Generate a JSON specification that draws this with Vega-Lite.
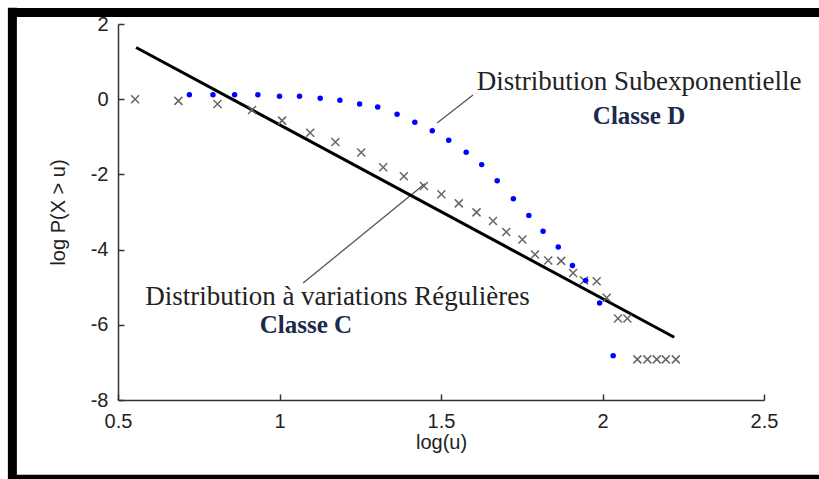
{
  "$schema": "https://vega.github.io/schema/vega-lite/v6.json",
  "usermeta": {"embedOptions": {"actions": false}},
  "width": 646,
  "height": 376,
  "autosize": "none",
  "padding": {"left": 118, "top": 24, "right": 55, "bottom": 79},
  "background": "#ffffff",
  "config": {
    "view": {"stroke": null},
    "axis": {
      "grid": false,
      "domainColor": "#333333",
      "tickColor": "#333333",
      "domainWidth": 1.5,
      "tickWidth": 1.5,
      "tickSize": -6,
      "labelFont": "Liberation Sans",
      "labelFontSize": 20,
      "labelColor": "#222222",
      "labelFlush": false,
      "labelOverlap": false,
      "titleFont": "Liberation Sans",
      "titleFontSize": 20,
      "titleFontWeight": "normal",
      "titleColor": "#222222"
    }
  },
  "datasets": {
    "frame": [
      {"x1": 0.16, "x2": 4.0, "y1": 2.309, "y2": 2.309},
      {"x1": 0.173, "x2": 0.173, "y1": 2.43, "y2": -10.5},
      {"x1": 0.16, "x2": 4.0, "y1": -10.11, "y2": -10.11}
    ],
    "fit": [{"u": 0.556, "p": 1.376}, {"u": 2.222, "p": -6.33}],
    "pointers": [
      {"x1": 1.488, "y1": -0.63, "x2": 1.599, "y2": 0.114},
      {"x1": 1.073, "y1": -4.89, "x2": 1.45, "y2": -2.25}
    ],
    "crosses": [
      {"u": 0.553, "p": 0.0}, {"u": 0.687, "p": -0.045}, {"u": 0.808, "p": -0.13},
      {"u": 0.915, "p": -0.285}, {"u": 1.008, "p": -0.57}, {"u": 1.095, "p": -0.89},
      {"u": 1.173, "p": -1.14}, {"u": 1.253, "p": -1.42}, {"u": 1.321, "p": -1.81},
      {"u": 1.385, "p": -2.05}, {"u": 1.447, "p": -2.31}, {"u": 1.501, "p": -2.53},
      {"u": 1.555, "p": -2.77}, {"u": 1.61, "p": -3.01}, {"u": 1.661, "p": -3.24},
      {"u": 1.702, "p": -3.53}, {"u": 1.752, "p": -3.73}, {"u": 1.791, "p": -4.13},
      {"u": 1.832, "p": -4.29}, {"u": 1.872, "p": -4.3}, {"u": 1.909, "p": -4.62},
      {"u": 1.943, "p": -4.82}, {"u": 1.982, "p": -4.84}, {"u": 2.013, "p": -5.28},
      {"u": 2.048, "p": -5.83}, {"u": 2.077, "p": -5.83}, {"u": 2.108, "p": -6.92},
      {"u": 2.139, "p": -6.92}, {"u": 2.168, "p": -6.92}, {"u": 2.196, "p": -6.92},
      {"u": 2.227, "p": -6.92}
    ],
    "dots": [
      {"u": 0.721, "p": 0.12}, {"u": 0.794, "p": 0.12}, {"u": 0.861, "p": 0.12},
      {"u": 0.933, "p": 0.12}, {"u": 1.0, "p": 0.08}, {"u": 1.062, "p": 0.08},
      {"u": 1.126, "p": 0.027}, {"u": 1.187, "p": -0.027}, {"u": 1.248, "p": -0.125},
      {"u": 1.304, "p": -0.21}, {"u": 1.364, "p": -0.4}, {"u": 1.419, "p": -0.61},
      {"u": 1.473, "p": -0.84}, {"u": 1.524, "p": -1.09}, {"u": 1.578, "p": -1.41},
      {"u": 1.626, "p": -1.74}, {"u": 1.674, "p": -2.17}, {"u": 1.724, "p": -2.65},
      {"u": 1.772, "p": -3.09}, {"u": 1.816, "p": -3.51}, {"u": 1.863, "p": -3.93},
      {"u": 1.907, "p": -4.42}, {"u": 1.948, "p": -4.82}, {"u": 1.991, "p": -5.42},
      {"u": 2.033, "p": -6.82}
    ],
    "labels": [
      {"x": 1.611, "y": 0.247, "text": "Distribution Subexponentielle"},
      {"x": 0.584, "y": -5.47, "text": "Distribution à variations Régulières"}
    ],
    "classes": [
      {"x": 2.113, "y": -0.657, "text": "Classe D"},
      {"x": 1.082, "y": -6.21, "text": "Classe C"}
    ]
  },
  "layer": [
    {
      "data": {"name": "frame"},
      "mark": {"type": "rule", "color": "#000000", "strokeWidth": 9, "clip": false},
      "encoding": {
        "x": {"field": "x1", "type": "quantitative", "scale": {"domain": [0.5, 2.5], "nice": false, "zero": false},
          "axis": {"values": [0.5, 1, 1.5, 2, 2.5], "labelExpr": "'' + datum.value", "labelPadding": 17, "title": "log(u)", "titlePadding": 1}},
        "x2": {"field": "x2"},
        "y": {"field": "y1", "type": "quantitative", "scale": {"domain": [-8, 2], "nice": false, "zero": false},
          "axis": {"values": [-8, -6, -4, -2, 0, 2], "labelExpr": "'' + datum.value", "labelPadding": 16, "title": "log P(X > u)", "titlePadding": 22}},
        "y2": {"field": "y2"}
      }
    },
    {
      "data": {"name": "pointers"},
      "mark": {"type": "rule", "color": "#555555", "strokeWidth": 1.3},
      "encoding": {
        "x": {"field": "x1", "type": "quantitative"},
        "y": {"field": "y1", "type": "quantitative"},
        "x2": {"field": "x2"},
        "y2": {"field": "y2"}
      }
    },
    {
      "data": {"name": "fit"},
      "mark": {"type": "line", "color": "#000000", "strokeWidth": 3},
      "encoding": {
        "x": {"field": "u", "type": "quantitative"},
        "y": {"field": "p", "type": "quantitative"}
      }
    },
    {
      "data": {"name": "crosses"},
      "mark": {"type": "point", "shape": "M-1,-1L1,1M1,-1L-1,1", "filled": false, "stroke": "#666666", "strokeWidth": 1.5, "size": 64, "opacity": 1},
      "encoding": {
        "x": {"field": "u", "type": "quantitative"},
        "y": {"field": "p", "type": "quantitative"}
      }
    },
    {
      "data": {"name": "dots"},
      "mark": {"type": "point", "shape": "circle", "filled": true, "color": "#0000ff", "size": 30, "opacity": 1},
      "encoding": {
        "x": {"field": "u", "type": "quantitative"},
        "y": {"field": "p", "type": "quantitative"}
      }
    },
    {
      "data": {"name": "labels"},
      "mark": {"type": "text", "font": "Liberation Serif", "fontSize": 27, "align": "left", "baseline": "alphabetic", "color": "#222222"},
      "encoding": {
        "x": {"field": "x", "type": "quantitative"},
        "y": {"field": "y", "type": "quantitative"},
        "text": {"field": "text"}
      }
    },
    {
      "data": {"name": "classes"},
      "mark": {"type": "text", "font": "Liberation Serif", "fontSize": 25, "fontWeight": "bold", "align": "center", "baseline": "alphabetic", "color": "#1b2a4a"},
      "encoding": {
        "x": {"field": "x", "type": "quantitative"},
        "y": {"field": "y", "type": "quantitative"},
        "text": {"field": "text"}
      }
    }
  ]
}
